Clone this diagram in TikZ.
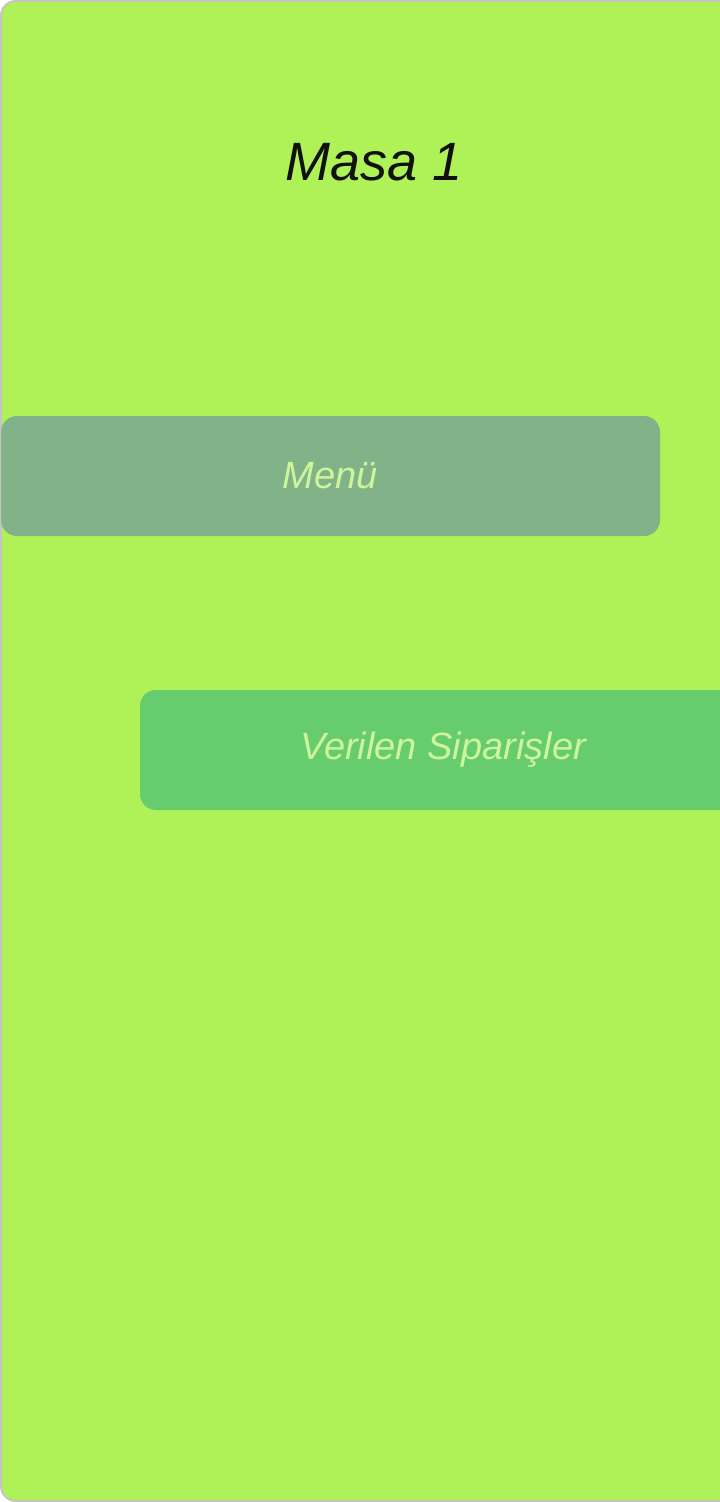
\documentclass[tikz,border=0pt]{standalone}
\usepackage{fontspec}
\setmainfont{Liberation Sans}
\definecolor{bggreen}{HTML}{AEF258}
\definecolor{framegrey}{HTML}{C4C4C4}
\definecolor{menubox}{HTML}{82B288}
\definecolor{orderbox}{HTML}{66CC6E}
\definecolor{btntext}{HTML}{CDF59B}
\definecolor{titletext}{HTML}{111111}
\tikzset{
  btn/.style={fill=#1, rounded corners=16pt, inner sep=0pt, text=btntext,
    font=\fontsize{38}{44}\selectfont\itshape},
}
\begin{document}
\begin{tikzpicture}[x=1pt,y=-1pt]
\useasboundingbox (0,0) rectangle (720,1502);
\begin{scope}
\clip (0,0) rectangle (720,1502);
\fill[bggreen, rounded corners=15pt] (760,1) -- (1,1) -- (1,1501) -- (760,1501) -- cycle;
\draw[framegrey, line width=2pt, rounded corners=15pt] (760,1) -- (1,1) -- (1,1501) -- (760,1501);
\node[btn=menubox, minimum width=659pt, minimum height=120pt] (menu) at (330.5,476) {Menü};
\node[btn=orderbox, minimum width=606pt, minimum height=120pt] (orders) at (443,750) {Verilen Siparişler};
\end{scope}
\node[text=titletext, font=\fontsize{54}{62}\selectfont\itshape, anchor=base] (title) at (374,180) {Masa 1};
\end{tikzpicture}
\end{document}
